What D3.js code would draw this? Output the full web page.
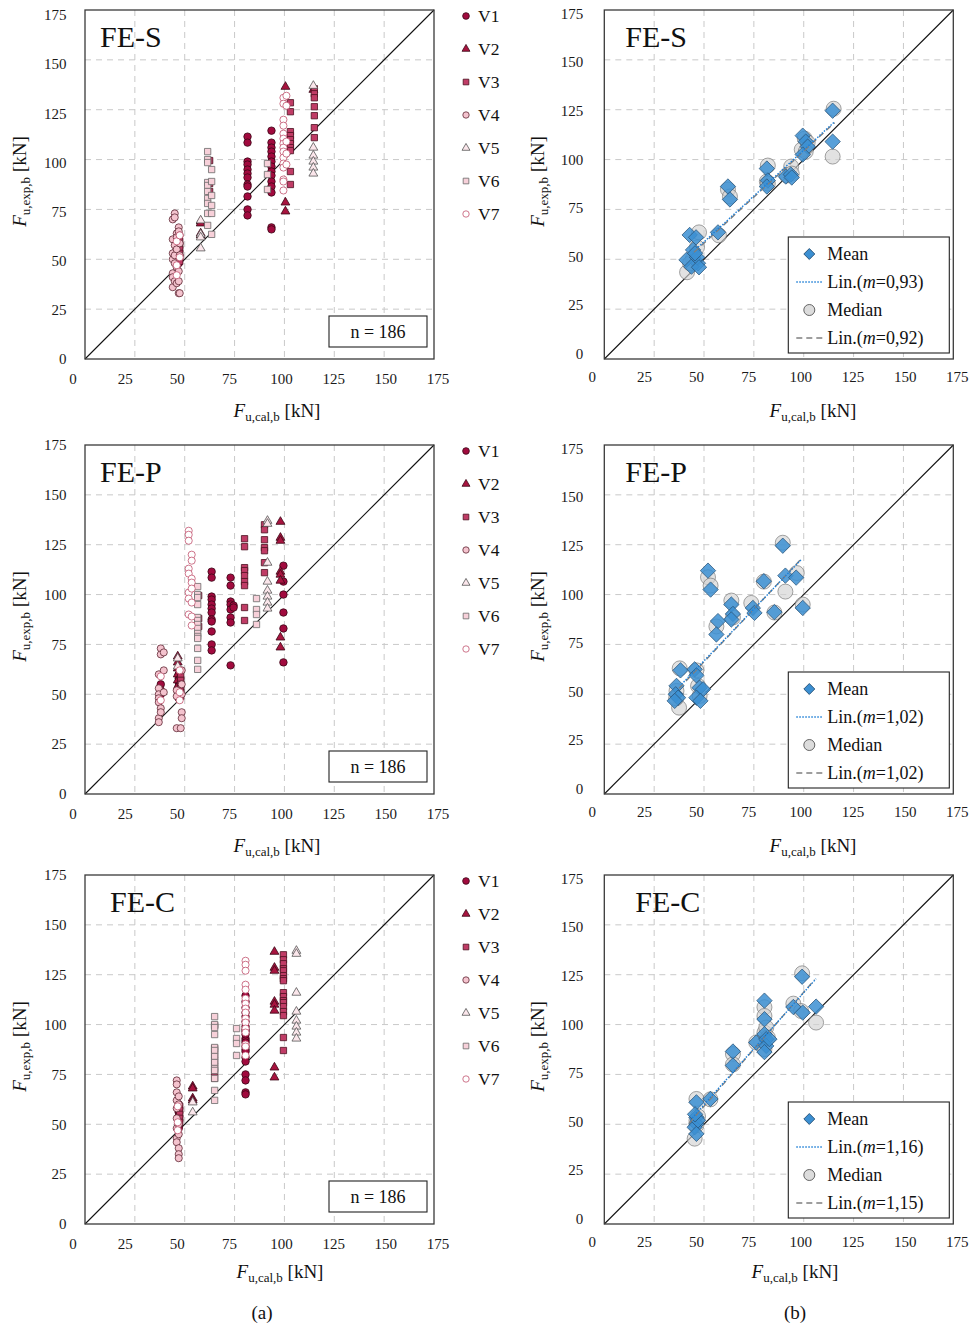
<!DOCTYPE html>
<html>
<head>
<meta charset="utf-8">
<script src="https://cdn.jsdelivr.net/npm/d3@7"></script>
<style>
  body { margin: 0; background: #fff; }
  svg { font-family: "Liberation Serif", "Times New Roman", serif; }
</style>
</head>
<body>
<svg id="chart" width="971" height="1326"></svg>
<script>
// ---- data ----
const tickValues = [0, 25, 50, 75, 100, 125, 150, 175];
const panelNames = ["FE-S", "FE-P", "FE-C"];
const seriesNames = ["V1", "V2", "V3", "V4", "V5", "V6", "V7"];
const nLabel = "n = 186";

// left panels: per series, columns of [F_cal, [F_exp ...]]
const feS_V1 = [[46, [57, 55, 53, 51]], [47, [60, 58, 56, 54, 52, 50, 49, 48]],
  [81.5, [111.5, 108.5, 99, 97.5, 95, 93, 91, 87.5, 86.5, 81.5, 75, 72]],
  [93.5, [114.5, 108.5, 106, 104, 101.5, 99, 96.5, 94, 92, 89, 86.5, 83.5, 66, 65]]];
const feS_V2 = [[46.5, [57, 54, 52, 50]], [58, [69, 68, 63, 62]], [100.5, [136.5, 78.5, 74]], [114.5, [135]]];
const feS_V3 = [[46.5, [56, 50]], [47.5, [59, 57, 55, 53, 51, 49]], [62.5, [99.5, 88, 84]],
  [103, [128.5, 124, 114, 112, 110, 108, 106, 104.5, 94, 87.5]],
  [115, [135.5, 133, 131, 126.5, 122, 116, 111]]];
const feS_V4 = [[44, [70, 60, 53, 50, 43, 41, 36]], [45, [73, 71, 57, 48, 39, 52]],
  [46, [63, 55, 46, 38, 61]], [47, [66, 64, 44, 39, 33]], [47.5, [33, 62, 52, 58]]];
const feS_V5 = [[58, [69.5, 62.5, 61, 55.5]], [114.5, [137, 106, 102, 99, 96, 93]]];
const feS_V6 = [[61.5, [104, 100, 98.5, 88.5, 87, 84, 80.5, 78, 73, 67]],
  [63.5, [95, 89, 82, 77, 73, 62.5]], [91.5, [98, 92.5, 85]]];
const feS_V7 = [[46, [59, 47, 42]], [47.5, [62, 51]],
  [99.5, [131, 128, 120, 117, 113, 110.5, 108, 106, 104, 101, 98, 96, 90, 89, 84.5]],
  [101, [132, 127, 109, 103, 97.5]]];

const feP_V1 = [[47, [60, 58, 56, 54, 52, 50, 49, 48]], [38, [55, 52, 50]],
  [63.5, [111.5, 108.5, 99, 97.5, 95, 93, 91, 87.5, 86.5, 81.5, 75, 72]],
  [73, [108.5, 104.5, 96.5, 95, 92.5, 88.5, 86, 64.5]], [74.5, [94.5, 93.5]],
  [99.5, [114.5, 106.5, 100, 91, 83, 66]]];
const feP_V2 = [[46.5, [69, 66, 63, 60, 57, 54]], [98, [136.5, 128.5, 127, 111.5, 110, 107, 78.5, 73.5]]];
const feP_V3 = [[48, [59, 57, 55, 53, 51, 49]], [57, [99.5, 88, 84]],
  [80, [128, 124, 113.5, 112, 109.5, 106.5, 104.5, 93.5, 87]],
  [90, [135, 132.5, 127.5, 123.5, 122, 116, 111]]];
const feP_V4 = [[37, [60, 53, 50, 48, 46, 38, 36]], [38, [73, 70, 43, 41]], [39.5, [71, 62, 51]],
  [48.5, [62, 55, 50, 41, 38]], [46, [33, 52, 49]], [48, [33]]];
const feP_V5 = [[46.5, [68, 64]], [91.5, [137, 135.5, 116, 106.5, 102, 99, 96, 93]]];
const feP_V6 = [[56.5, [104, 100, 98.5, 95, 88.5, 87, 85, 83, 80.5, 79, 78, 73, 67, 62.5]],
  [86, [98, 92.5, 90, 85]]];
const feP_V7 = [[38, [59, 47]], [47.5, [62, 51, 47]],
  [52, [132, 130, 127, 113, 110.5, 101, 98, 90]],
  [53.5, [120, 117, 108, 106, 103, 96, 89, 84.5]]];

const feC_V1 = [[47, [60, 58, 56, 54, 52, 50, 49, 48, 57, 53]],
  [80.5, [114.5, 111.5, 108.5, 106, 104, 101.5, 99, 97.5, 96.5, 95, 93, 92, 91, 89, 87.5, 86.5, 83.5, 81.5, 75, 72, 66, 65]]];
const feC_V2 = [[54, [69, 68, 63, 62]], [95, [136.5, 128.5, 127, 111.5, 110, 107, 78.5, 73.5]]];
const feC_V3 = [[47.5, [59, 57, 55, 53, 51]], [65, [99.5, 88, 85, 82, 79, 76, 73]],
  [99.5, [135, 132.5, 130.5, 128, 127, 124.5, 123, 122, 116, 114, 112, 111, 109, 106.5, 104.5, 93.5, 87]]];
const feC_V4 = [[46, [72, 70, 66, 62, 58, 53, 48, 43, 41]], [47, [64, 60, 50, 45, 38, 35, 33]]];
const feC_V5 = [[54, [61, 56]], [106, [137, 135.5, 116, 106.5, 102, 99, 96, 93]]];
const feC_V6 = [[65, [104, 100, 98.5, 95, 88.5, 87, 84, 81, 78, 77, 73, 67, 62]],
  [76, [98, 93, 90.5, 84.5]]];
const feC_V7 = [[46.5, [59, 51, 47]],
  [80.5, [132, 130, 127, 120, 117.5, 113, 110.5, 108, 106, 103, 101, 98, 96, 90, 89, 84.5]]];

// right panels: [F_cal, F_exp] of mean and median per specimen group
const meanS = [[42.8, 62.2], [46, 61], [44.5, 54.7], [41.2, 49.7], [47, 48], [43.7, 46.3], [46.5, 51],
  [45.5, 53], [47.5, 46], [57, 63.5], [62, 86.5], [63, 80], [81.5, 95.5], [82, 89.5], [81.5, 86.5],
  [91, 91.5], [93.5, 92.5], [94, 91], [99.5, 112], [101, 109], [102, 106.5], [99.5, 102.5],
  [114.5, 124.5], [114.5, 109]];
const medianS = [[47.5, 63.5], [41.5, 43.5], [44.5, 50.5], [46.5, 56], [43, 48], [57.5, 62], [62, 85],
  [63, 81.5], [82, 97], [81.5, 89], [82, 88], [91.5, 92], [93.7, 96.5], [94, 93], [100.5, 110.5],
  [99, 105], [102, 108.5], [101, 104], [115, 125.5], [114.5, 101.5]];
const meanP = [[89.5, 124.5], [52, 112], [53.3, 102.5], [80, 106.7], [90.8, 109.5], [96.2, 108.5],
  [99.5, 93.3], [85.3, 91.2], [74.5, 93.3], [75.3, 90.8], [63.7, 95], [64.5, 90.3], [63.7, 87.5],
  [57, 86.7], [56.2, 80], [45.3, 62.5], [38.2, 62], [46.2, 59.5], [36.2, 54.2], [35.8, 50],
  [37, 48.3], [35.3, 46.7], [47.8, 53.3], [49.5, 52.5], [46.2, 48.3], [48.2, 46.7]];
const medianP = [[89.5, 126], [52, 108.7], [53.3, 104.5], [80, 106.5], [90.8, 101.5], [96.5, 110.8],
  [99.5, 95], [85.3, 91], [73.7, 95.8], [63.7, 97], [64.5, 88.5], [56.2, 84], [46.2, 62], [37.8, 63],
  [37.5, 43.3], [36.2, 51.7], [47.8, 49.2], [47, 54.2], [36, 48]];
const meanC = [[99.2, 124], [80.3, 112], [80.3, 102.7], [94.8, 108.8], [99.5, 106], [106.2, 109],
  [64.5, 86.5], [64.5, 79.5], [76.2, 91], [80.3, 95.2], [81.2, 92.7], [81.2, 89.3], [80.3, 86.2],
  [82.8, 92.7], [53.2, 62.7], [46.2, 61], [46.2, 53.5], [46.2, 50.2], [45.3, 48.5], [46.2, 45.2],
  [47, 52], [45.5, 55]];
const medianC = [[99.2, 125.7], [80.3, 108.7], [80.3, 104.3], [94.8, 110.5], [98.7, 106.8],
  [106.2, 101], [64.5, 85.2], [64.5, 80], [76.2, 91], [80.3, 96], [80.3, 87.7], [81.2, 98.5],
  [82, 93.5], [53.2, 62.5], [46.2, 62.7], [45.3, 42.8], [46.2, 51.8], [46.2, 49.5], [47, 54]];

// linear fits: end points
const fitMeanS = [[47, 56], [115.5, 119]];
const fitMedianS = [[45, 53.5], [115.5, 118.5]];
const fitMeanP = [[38.7, 55], [98.7, 117.5]];
const fitMedianP = [[37.5, 53], [98.7, 117.8]];
const fitMeanC = [[43, 52], [106.2, 123]];
const fitMedianC = [[42.5, 50.5], [105.5, 122.5]];
const slopeLabels = [["0,93", "0,92"], ["1,02", "1,02"], ["1,16", "1,15"]];

// ---- styles ----
const seriesShape = [d3.symbolCircle, d3.symbolTriangle, d3.symbolSquare, d3.symbolCircle,
  d3.symbolTriangle, d3.symbolSquare, d3.symbolCircle];
const seriesSize = [44, 34, 40, 40, 34, 40, 40];
const seriesFill = ["#a10a3e", "#a8143f", "#c03c66", "#f4c3ce", "#fbe6eb", "#f7d0d9", "#ffffff"];
const seriesStroke = ["#3a0816", "#3a0816", "#4a1020", "#5e2734", "#555555", "#6a6a6a", "#c2536f"];

const W = 349, H = 349;
const rows = [
  {top: 10, xTitleDy: 58, xl: 277, xr: 813},
  {top: 445, xTitleDy: 58, xl: 277, xr: 813},
  {top: 875, xTitleDy: 54, xl: 280, xr: 795}
];
const leftX = 85, rightX = 604.3;

const svg = d3.select("#chart");
const x = d3.scaleLinear().domain([0, 175]).range([0, W]);
const y = d3.scaleLinear().domain([0, 175]).range([H, 0]);
// tick labels in the source sit on a slightly wider scale than the grid
const xLab = d3.scaleLinear().domain([0, 175]).range([-12.5, 352.5]);

function axisTitle(sel, sub) {
  sel.append("tspan").attr("font-style", "italic").text("F");
  sel.append("tspan").attr("font-size", 13).attr("dy", 4).text(sub);
  sel.append("tspan").attr("dy", -4).text(" [kN]");
}

function drawFrame(g, side, row, name, i) {
  const gridVals = tickValues.slice(1, -1);
  g.append("g").selectAll("line").data(gridVals).join("line")
    .attr("x1", d => x(d)).attr("x2", d => x(d)).attr("y1", 0).attr("y2", H)
    .attr("stroke", "#c9c9c9").attr("stroke-dasharray", "6,5");
  g.append("g").selectAll("line").data(gridVals).join("line")
    .attr("y1", d => y(d)).attr("y2", d => y(d)).attr("x1", 0).attr("x2", W)
    .attr("stroke", "#c9c9c9").attr("stroke-dasharray", "6,5");

  g.append("line")
    .attr("x1", x(0)).attr("y1", y(0)).attr("x2", x(175)).attr("y2", y(175))
    .attr("stroke", "#111").attr("stroke-width", 1.1);

  g.append("rect").attr("width", W).attr("height", H)
    .attr("fill", "none").attr("stroke", "#3a3a3a").attr("stroke-width", 1.3);

  // x tick labels
  const xa = g.append("g").attr("transform", `translate(0,${H + (side === "l" ? 14.5 : 12.5)})`)
    .call(d3.axisBottom(xLab).tickValues(tickValues).tickSize(0).tickPadding(0));
  xa.select(".domain").remove();
  xa.selectAll("text").attr("font-size", 15).attr("fill", "#1a1a1a")
    .attr("font-family", "Liberation Serif, serif");

  // y tick labels
  const yLab = side === "l"
    ? d3.scaleLinear().domain([0, 175]).range([H, i === 0 ? 5 : 0])
    : d3.scaleLinear().domain([0, 175]).range([H - 5.5, 3.5]);
  const ya = g.append("g").attr("transform", `translate(${side === "l" ? -18.5 : -21},0)`)
    .call(d3.axisLeft(yLab).tickValues(tickValues).tickSize(0).tickPadding(0));
  ya.select(".domain").remove();
  ya.selectAll("text").attr("font-size", 15).attr("fill", "#1a1a1a")
    .attr("font-family", "Liberation Serif, serif");

  // panel name
  g.append("text").attr("x", (i === 2 ? 25 : 15) + (side === "r" ? 6 : 0)).attr("y", 37)
    .attr("font-size", 30).attr("fill", "#111").text(name);

  // axis titles
  const x0 = side === "l" ? leftX : rightX;
  axisTitle(g.append("text")
    .attr("x", (side === "l" ? row.xl : row.xr) - x0).attr("y", H + row.xTitleDy)
    .attr("text-anchor", "middle").attr("font-size", 19).attr("fill", "#111"), "u,cal,b");
  axisTitle(g.append("text")
    .attr("transform", `translate(${side === "l" ? -59 : -60},${H / 2 - 3}) rotate(-90)`)
    .attr("text-anchor", "middle").attr("font-size", 19).attr("fill", "#111"), "u,exp,b");
}

const leftSets = [
  [feS_V1, feS_V2, feS_V3, feS_V4, feS_V5, feS_V6, feS_V7],
  [feP_V1, feP_V2, feP_V3, feP_V4, feP_V5, feP_V6, feP_V7],
  [feC_V1, feC_V2, feC_V3, feC_V4, feC_V5, feC_V6, feC_V7]
];
const rightSets = [
  {mean: meanS, median: medianS, fitMean: fitMeanS, fitMedian: fitMedianS},
  {mean: meanP, median: medianP, fitMean: fitMeanP, fitMedian: fitMedianP},
  {mean: meanC, median: medianC, fitMean: fitMeanC, fitMedian: fitMedianC}
];

rows.forEach((row, i) => {
  // ---- left panel ----
  const gl = svg.append("g").attr("transform", `translate(${leftX},${row.top})`);
  drawFrame(gl, "l", row, panelNames[i], i);

  const pts = [];
  leftSets[i].forEach((cols, s) => cols.forEach(([cx, ys]) => ys.forEach(v => pts.push({s, x: cx, y: v}))));
  gl.append("g").selectAll("path").data(pts).join("path")
    .attr("transform", d => `translate(${x(d.x)},${y(d.y)})`)
    .attr("d", d => d3.symbol(seriesShape[d.s], seriesSize[d.s])())
    .attr("fill", d => seriesFill[d.s])
    .attr("stroke", d => seriesStroke[d.s]).attr("stroke-width", 0.8);

  // n box
  gl.append("rect").attr("x", 244).attr("y", H - 43).attr("width", 98).attr("height", 31)
    .attr("fill", "#fff").attr("stroke", "#222").attr("stroke-width", 1.1);
  gl.append("text").attr("x", 293).attr("y", H - 21.5).attr("text-anchor", "middle")
    .attr("font-size", 18).attr("fill", "#111").text(nLabel);

  // series legend
  const lg = gl.append("g").attr("transform", `translate(${466 - leftX},6)`);
  const li = lg.selectAll("g").data(seriesNames).join("g")
    .attr("transform", (d, k) => `translate(0,${k * 33})`);
  li.append("path")
    .attr("d", (d, k) => d3.symbol(seriesShape[k], seriesSize[k] * 0.8)())
    .attr("fill", (d, k) => seriesFill[k])
    .attr("stroke", (d, k) => seriesStroke[k]).attr("stroke-width", 0.8);
  li.append("text").attr("x", 12).attr("dy", "0.35em")
    .attr("font-size", 17.5).attr("fill", "#111").text(d => d);

  // ---- right panel ----
  const gr = svg.append("g").attr("transform", `translate(${rightX},${row.top})`);
  drawFrame(gr, "r", row, panelNames[i], i);
  const rs = rightSets[i];

  gr.append("g").selectAll("circle").data(rs.median).join("circle")
    .attr("cx", d => x(d[0])).attr("cy", d => y(d[1])).attr("r", 7.5)
    .attr("fill", "#d3d3d3").attr("fill-opacity", 0.65)
    .attr("stroke", "#707070").attr("stroke-opacity", 0.7).attr("stroke-width", 0.9);
  gr.append("g").selectAll("path").data(rs.mean).join("path")
    .attr("transform", d => `translate(${x(d[0])},${y(d[1])}) rotate(45)`)
    .attr("d", d3.symbol(d3.symbolSquare, 118)())
    .attr("fill", "#3b8fd2").attr("fill-opacity", 0.85)
    .attr("stroke", "#2a5479").attr("stroke-opacity", 0.8).attr("stroke-width", 0.9);

  const line = d3.line().x(d => x(d[0])).y(d => y(d[1]));
  gr.append("path").attr("d", line(rs.fitMedian)).attr("fill", "none")
    .attr("stroke", "#7f7f7f").attr("stroke-width", 1.4).attr("stroke-dasharray", "6,4");
  gr.append("path").attr("d", line(rs.fitMean)).attr("fill", "none")
    .attr("stroke", "#1f7fd6").attr("stroke-width", 1.4).attr("stroke-dasharray", "1.5,1.5");

  // legend box
  const lb = gr.append("g").attr("transform", `translate(184,${H - 122})`);
  lb.append("rect").attr("width", 161).attr("height", 116)
    .attr("fill", "#fff").attr("stroke", "#222").attr("stroke-width", 1.1);
  const rowY = [17, 45, 73, 101];
  lb.append("path").attr("transform", `translate(21,${rowY[0]}) rotate(45)`)
    .attr("d", d3.symbol(d3.symbolSquare, 60)())
    .attr("fill", "#3b8fd2").attr("stroke", "#2a5479").attr("stroke-width", 0.9);
  lb.append("circle").attr("cx", 21).attr("cy", rowY[2]).attr("r", 5.5)
    .attr("fill", "#dcdcdc").attr("stroke", "#555").attr("stroke-width", 0.9);
  lb.append("line").attr("x1", 8).attr("x2", 35).attr("y1", rowY[1]).attr("y2", rowY[1])
    .attr("stroke", "#1f7fd6").attr("stroke-width", 1.4).attr("stroke-dasharray", "1.5,1.5");
  lb.append("line").attr("x1", 8).attr("x2", 35).attr("y1", rowY[3]).attr("y2", rowY[3])
    .attr("stroke", "#7f7f7f").attr("stroke-width", 1.4).attr("stroke-dasharray", "6,4");
  const labels = ["Mean", null, "Median", null];
  labels.forEach((t, k) => {
    const tx = lb.append("text").attr("x", 39).attr("y", rowY[k]).attr("dy", "0.35em")
      .attr("font-size", 18).attr("fill", "#111");
    if (t) { tx.text(t); return; }
    tx.append("tspan").text("Lin.(");
    tx.append("tspan").attr("font-style", "italic").text("m");
    tx.append("tspan").text("=" + slopeLabels[i][k === 1 ? 0 : 1] + ")");
  });
});

// captions
svg.append("text").attr("x", 262).attr("y", 1319).attr("text-anchor", "middle")
  .attr("font-size", 19).attr("fill", "#111").text("(a)");
svg.append("text").attr("x", 795).attr("y", 1319).attr("text-anchor", "middle")
  .attr("font-size", 19).attr("fill", "#111").text("(b)");
</script>
</body>
</html>
